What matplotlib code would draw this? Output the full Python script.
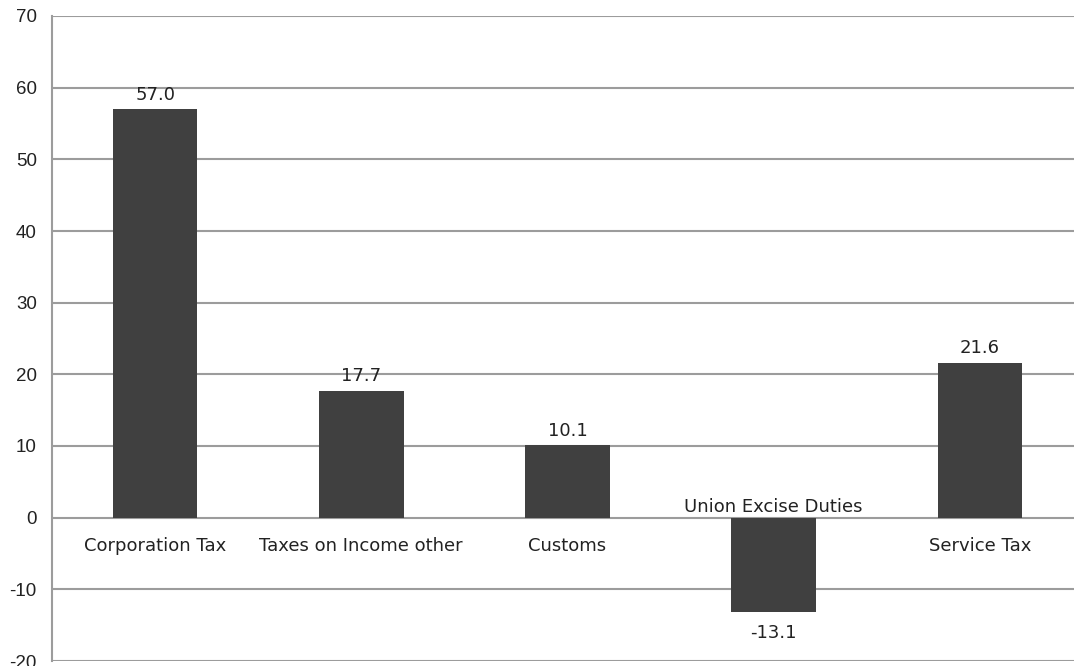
import matplotlib.pyplot as plt

categories = ['Corporation Tax', 'Taxes on Income other', 'Customs', 'Union Excise Duties', 'Service Tax']
values = [57.0, 17.7, 10.1, -13.1, 21.6]
yticks = [-20, -10, 0, 10, 20, 30, 40, 50, 60, 70]

fig = plt.figure(figsize=(10.74, 6.66), dpi=100)
# plot area runs past the right edge of the figure
ax = fig.add_axes([52 / 1074, 1 - 661 / 666, 1031 / 1074, 645 / 666])

x = range(len(categories))
ax.bar(x, values, width=0.41, color='#404040', zorder=3)

ax.set_xlim(-0.5, len(categories) - 0.5)
ax.set_ylim(-20, 70)
ax.set_yticks(yticks)
ax.set_yticklabels([str(t) for t in yticks], fontsize=13.5, color='#222222',
                   family='Liberation Sans')
ax.set_xticks([])
ax.tick_params(axis='y', length=0, pad=11)

for t in yticks:
    ax.axhline(t, color='#9c9c9c', lw=1.5, zorder=1)

for s in ['top', 'right', 'bottom']:
    ax.spines[s].set_visible(False)
ax.spines['left'].set_color('#9c9c9c')
ax.spines['left'].set_linewidth(1.5)

lab = dict(fontsize=13, color='#222222', ha='center', textcoords='offset points')
for i, (c, v) in enumerate(zip(categories, values)):
    if v >= 0:
        ax.annotate(f'{v:.1f}', (i, v), xytext=(0, 4), va='bottom', **lab)
        ax.annotate(c, (i, 0), xytext=(0, -14), va='top', **lab)
    else:
        ax.annotate(f'{v:.1f}', (i, v), xytext=(0, -9), va='top', **lab)
        ax.annotate(c, (i, 0), xytext=(0, 1), va='bottom', **lab)

fig.savefig('out.png', dpi=100)
